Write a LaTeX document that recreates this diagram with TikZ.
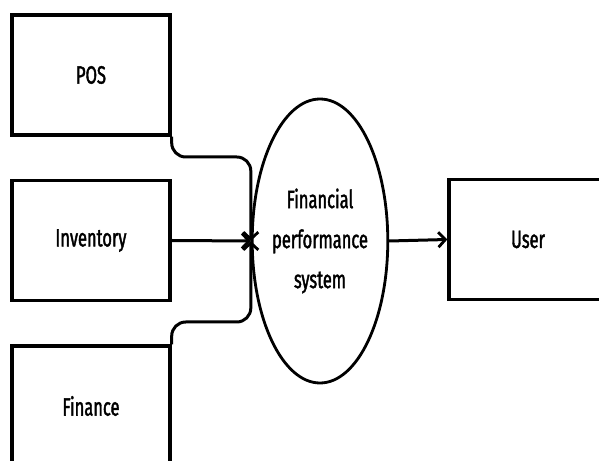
\documentclass[tikz,border=0pt]{standalone}
\usepackage{fontspec}
\setmainfont{Fira Sans}[FakeStretch=0.66,FakeBold=1.6]
\usetikzlibrary{shapes.geometric,arrows.meta}
\begin{document}
\begin{tikzpicture}[x=1pt,y=1pt,
  box/.style={draw,line width=3.4pt,minimum width=158pt,minimum height=120pt,inner sep=0pt,font=\fontsize{25}{28}\selectfont},
  proc/.style={draw,ellipse,line width=2.8pt,minimum width=134pt,minimum height=284pt,inner sep=0pt,align=center,font=\fontsize{25}{40}\selectfont},
  conn/.style={line width=3pt,-{Straight Barb[length=7pt,width=15pt,line width=2.8pt]}},
  ]
\useasboundingbox (0,0) rectangle (599,460);
\clip (0,0) rectangle (599,460);
\fill[white] (0,0) rectangle (599,460);
\node[box] (pos) at (91,385) {POS};
\node[box] (inv) at (91,219.5) {Inventory};
\node[box] (fin) at (91,54) {Finance};
\node[box] (user) at (528,220.5) {User};
\node[proc] (fps) at (320,219) {Financial\\performance\\system};
\coordinate (j) at (fps.west);
\draw[conn] (inv.east) -- (j);
\draw[conn,rounded corners=14pt] (pos.south east) -- (pos.south east |- 0,303) -- (j |- 0,303) -- (j);
\draw[conn,rounded corners=14pt] (fin.north east) -- (fin.north east |- 0,138) -- (j |- 0,138) -- (j);
\draw[conn] (fps.east) -- (user.west);
\end{tikzpicture}
\end{document}
